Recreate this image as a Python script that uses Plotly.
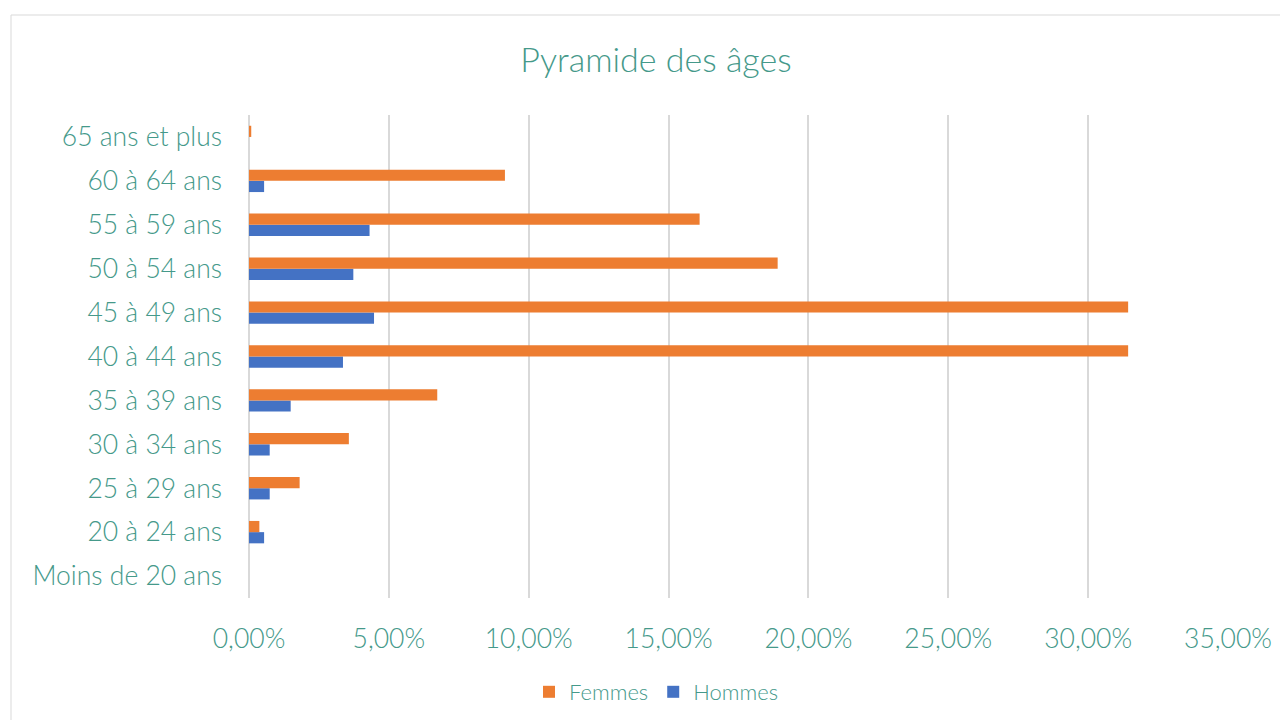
import plotly.graph_objects as go

categories = ["Moins de 20 ans", "20 à 24 ans", "25 à 29 ans", "30 à 34 ans", "35 à 39 ans",
              "40 à 44 ans", "45 à 49 ans", "50 à 54 ans", "55 à 59 ans", "60 à 64 ans",
              "65 ans et plus"]
femmes = [0.0, 0.0037, 0.0181, 0.0357, 0.0673, 0.3143, 0.3143, 0.1890, 0.1611, 0.0915, 0.0008]
hommes = [0.0, 0.0054, 0.0074, 0.0074, 0.0149, 0.0336, 0.0447, 0.0373, 0.0431, 0.0054, 0.0]
x_ticks = [0, 0.05, 0.10, 0.15, 0.20, 0.25, 0.30, 0.35]

TEXT = "#45998A"
FONT = "Lato, 'Open Sans', sans-serif"
OFF = 8  # page body margin
W, H = 1288 - OFF, 720 - OFF
ML, MR, MT, MB = 249 - OFF, 60, 115 - OFF, 122

fig = go.Figure()
fig.add_trace(go.Bar(y=categories, x=hommes, name="Hommes", orientation="h",
                     marker=dict(color="#4472C4", line=dict(width=0))))
fig.add_trace(go.Bar(y=categories, x=femmes, name="Femmes", orientation="h",
                     marker=dict(color="#ED7D31", line=dict(width=0))))

pw = W - ML - MR
ph = H - MT - MB
bx0, bx1, by0, by1 = 11 - OFF, 1300 - OFF, 15 - OFF, 730 - OFF
fig.add_shape(type="rect", xref="paper", yref="paper",
              x0=(bx0 - ML) / pw, x1=(bx1 - ML) / pw,
              y0=(H - MB - by1) / ph, y1=(H - MB - by0) / ph,
              line=dict(color="#D9D9D9", width=1), layer="below")

fig.update_layout(
    width=W, height=H,
    margin=dict(l=ML, r=MR, t=MT, b=MB),
    paper_bgcolor="white", plot_bgcolor="white",
    separators=", ",
    barmode="group", bargap=0.49, bargroupgap=0,
    font=dict(family=FONT, color=TEXT, weight=300),
    title=dict(text="Pyramide des âges", x=(656 - OFF) / W, xanchor="center",
               y=1 - (60 - OFF) / H, yanchor="middle",
               font=dict(size=34, color=TEXT, family=FONT, weight=300)),
    xaxis=dict(range=[0, 0.35], tickvals=x_ticks, tickformat=".2%",
               showgrid=True, gridcolor="#D9D9D9", gridwidth=2,
               zeroline=True, zerolinecolor="#D9D9D9", zerolinewidth=2,
               showline=False, ticks="", ticklabelstandoff=22,
               tickfont=dict(size=26.5, color=TEXT, weight=300), fixedrange=True),
    yaxis=dict(categoryorder="array", categoryarray=categories,
               showgrid=False, zeroline=False, showline=False, ticks="",
               ticklabelstandoff=26, tickfont=dict(size=26.5, color=TEXT, weight=300),
               range=[-0.5, len(categories) - 0.5]),
    legend=dict(orientation="h", x=(656 - OFF) / W, xref="container", xanchor="center",
                y=1 - (692 - OFF) / H, yref="container", yanchor="middle",
                traceorder="reversed", font=dict(size=22, color=TEXT, weight=300),
                itemwidth=30),
    showlegend=True,
)

fig.write_html("out.html")
